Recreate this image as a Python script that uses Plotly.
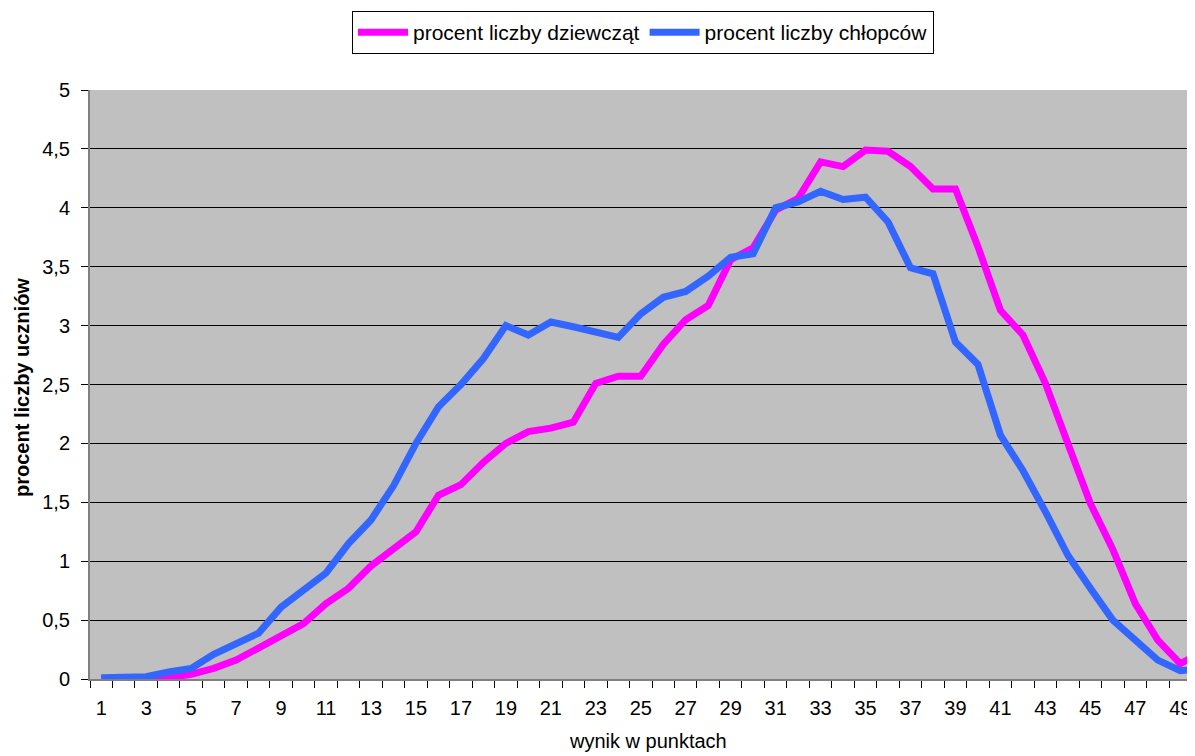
import plotly.graph_objects as go

wynik = list(range(1, 51))
dziewczeta = [0.0, 0.0, 0.0, 0.01, 0.04, 0.09, 0.16, 0.26, 0.37, 0.47,
              0.64, 0.77, 0.96, 1.10, 1.25, 1.56, 1.65, 1.84, 2.00, 2.10,
              2.13, 2.18, 2.51, 2.57, 2.57, 2.84, 3.05, 3.17, 3.56, 3.66,
              3.98, 4.08, 4.39, 4.35, 4.49, 4.48, 4.35, 4.16, 4.16, 3.67,
              3.13, 2.92, 2.51, 2.00, 1.49, 1.10, 0.64, 0.33, 0.13, 0.23]
chlopcy = [0.01, 0.01, 0.02, 0.06, 0.09, 0.21, 0.30, 0.39, 0.61, 0.76,
           0.90, 1.15, 1.35, 1.64, 2.00, 2.31, 2.50, 2.72, 3.00, 2.92,
           3.03, 2.99, 2.95, 2.90, 3.10, 3.24, 3.29, 3.42, 3.58, 3.61,
           4.00, 4.05, 4.14, 4.07, 4.09, 3.88, 3.49, 3.44, 2.86, 2.67,
           2.07, 1.77, 1.42, 1.05, 0.77, 0.50, 0.33, 0.16, 0.07, 0.09]
x_labels = [str(n) for n in range(1, 51, 2)]

fig = go.Figure()
fig.add_trace(go.Scatter(x=wynik, y=dziewczeta, mode="lines",
                         name="procent liczby dziewcząt",
                         line=dict(color="#FF00FF", width=7)))
fig.add_trace(go.Scatter(x=wynik, y=chlopcy, mode="lines",
                         name="procent liczby chłopców",
                         line=dict(color="#3366FF", width=7)))

# the page body has an 8px margin, so figure coords = page coords - 8
OFF = 8
W, H = 1195, 756
L, R, T, B = 90 - OFF, 0, 90 - OFF, H + OFF - 679
PW, PH = W - L - R, H - T - B
cat_w = 22.48
xmax = 0.5 + PW / cat_w

fig.update_layout(
    width=W, height=H,
    margin=dict(l=L, r=R, t=T, b=B, autoexpand=False),
    paper_bgcolor="white",
    plot_bgcolor="#C0C0C0",
    separators=", ",
    font=dict(family="Liberation Sans, Arial, sans-serif", size=20, color="black"),
    showlegend=True,
    legend=dict(orientation="h", xref="container", yref="container",
                x=(352 - OFF) / W, xanchor="left",
                y=1 - (11 - OFF) / H, yanchor="top",
                bgcolor="white", bordercolor="black", borderwidth=1,
                font=dict(size=21), itemwidth=50, tracegroupgap=0,
                itemclick=False),
    xaxis=dict(
        range=[0.5, xmax], tickmode="array",
        tickvals=list(range(1, 51, 2)), ticktext=x_labels,
        ticks="outside", ticklen=10, tickcolor="rgba(0,0,0,0)",
        showgrid=False, zeroline=False, automargin=False,
        showline=True, linecolor="#808080", linewidth=2,
        tickfont=dict(size=20),
        minor=dict(ticks="outside", tick0=0.5, dtick=1, ticklen=7,
                   tickcolor="black", tickwidth=1, showgrid=False),
    ),
    yaxis=dict(
        range=[0, 5], dtick=0.5, tick0=0,
        ticks="outside", ticklen=7, tickcolor="black",
        ticklabelstandoff=7,
        showgrid=True, gridcolor="black", gridwidth=1,
        zeroline=False, showline=True, linecolor="#808080", linewidth=2,
        automargin=False,
        tickfont=dict(size=20),
    ),
    annotations=[
        dict(text="wynik w punktach", xref="paper", yref="paper",
             x=(648 - 90) / PW, y=(679 - 741) / PH, xanchor="center", yanchor="middle",
             showarrow=False, font=dict(size=20)),
        dict(text="<b>procent liczby uczniów</b>", xref="paper", yref="paper",
             x=(22 - 90) / PW, y=(679 - 388) / PH, xanchor="center", yanchor="middle",
             textangle=-90, showarrow=False, font=dict(size=20)),
    ],
)

fig.write_html("out.html")
